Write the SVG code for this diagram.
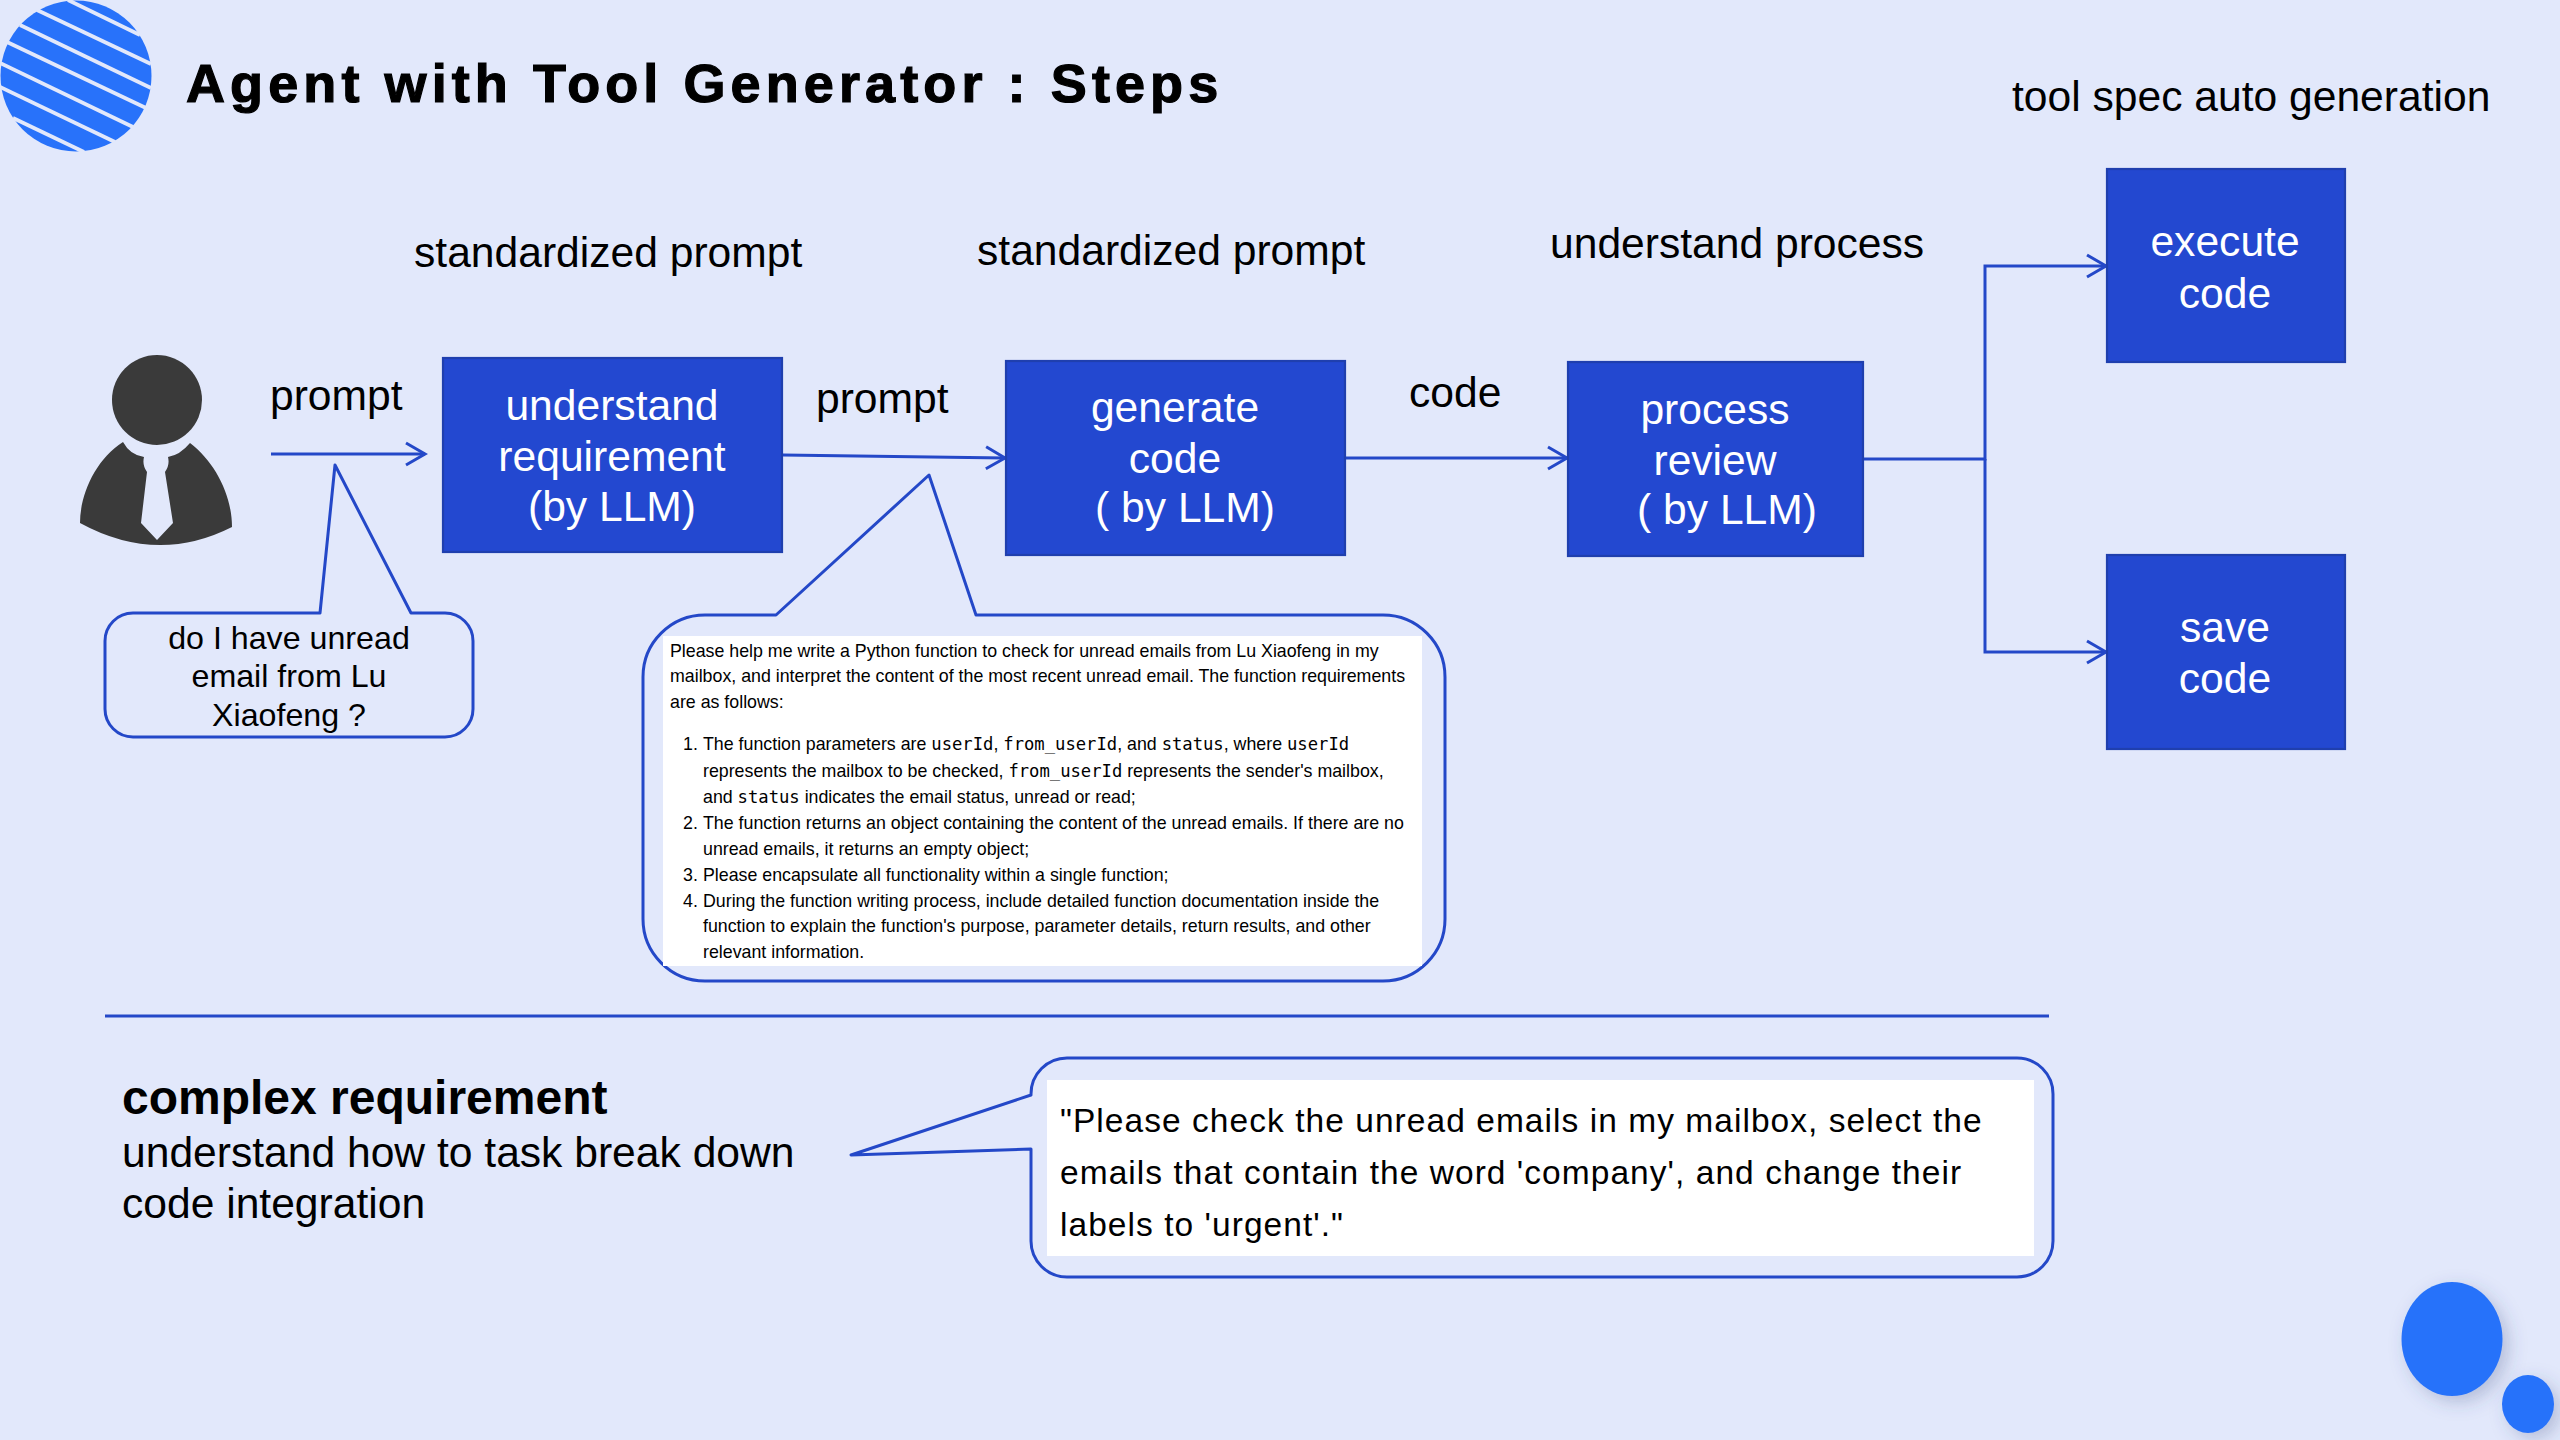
<svg xmlns="http://www.w3.org/2000/svg" width="2560" height="1440" viewBox="0 0 2560 1440">
<style>
text{font-family:"Liberation Sans",Arial,sans-serif;fill:#000}
.lbl{font-size:42.6px}
.box{fill:#2348D0;stroke:#1F3FAE;stroke-width:2.2}
.bt{font-size:42.6px;fill:#fff;text-anchor:middle}
.con{fill:none;stroke:#2448C8;stroke-width:3}
.call{fill:#E2E8FB;stroke:#2448C8;stroke-width:3;stroke-linejoin:round}
.cc{font-size:32.2px;text-anchor:middle}
.p{font-size:17.8px}
.m{font-family:"DejaVu Sans Mono","Liberation Mono",monospace;font-size:17.2px}
.q{font-size:33.5px;letter-spacing:1.05px}
.stripe{stroke:#E2E8FB;stroke-width:3.8}
</style>
<defs>
<marker id="arr" markerUnits="userSpaceOnUse" markerWidth="24" markerHeight="26" refX="20" refY="13" orient="auto"><path d="M1 2 L20 13 L1 24" fill="none" stroke="#2448C8" stroke-width="3"/></marker>
<filter id="sh" x="-30%" y="-30%" width="170%" height="170%"><feDropShadow dx="6" dy="6" stdDeviation="9" flood-color="#3a4a80" flood-opacity="0.28"/></filter>
</defs>
<rect width="2560" height="1440" fill="#E2E8FB"/>
<g id="logo">
<circle cx="76" cy="76" r="75.5" fill="#2872FA"/>
<g class="stripe"><line x1="68" y1="0" x2="140" y2="35"/><line x1="37" y1="10" x2="151" y2="64"/><line x1="20" y1="25" x2="151" y2="88"/><line x1="7" y1="42" x2="146" y2="108"/><line x1="0" y1="63" x2="133" y2="127"/><line x1="0" y1="87" x2="115" y2="142"/><line x1="13" y1="118" x2="84" y2="152"/></g>
</g>
<text id="title" x="186" y="102" font-size="54" font-weight="700" letter-spacing="5.1" stroke="#000" stroke-width="1.2">Agent with Tool Generator : Steps</text>
<g id="decor">
<ellipse cx="2452" cy="1339" rx="50.5" ry="57" fill="#2872FA" filter="url(#sh)"/>
<ellipse cx="2528" cy="1404" rx="26" ry="29" fill="#2872FA" filter="url(#sh)"/>
</g>
<g id="user">
<circle cx="157" cy="400" r="45" fill="#3A3A3A"/>
<path d="M123 442 C95 460 80 495 80 523 Q157 565 232 527 C232 495 215 462 190 443 Q180 455 168 457 Q170 465 165 472 L173 523 L157 540 L141 523 L147 472 Q142 465 144 457 Q130 455 123 442Z" fill="#3A3A3A"/>
</g>
<g id="connectors">
<line class="con" x1="271" y1="454" x2="425" y2="454" marker-end="url(#arr)"/>
<line class="con" x1="783" y1="455" x2="1005" y2="458" marker-end="url(#arr)"/>
<line class="con" x1="1346" y1="458" x2="1567" y2="458" marker-end="url(#arr)"/>
<path class="con" d="M1863 459H1985V266H2106" marker-end="url(#arr)"/>
<path class="con" d="M1985 459V652H2106" marker-end="url(#arr)"/>
<line x1="105" y1="1016" x2="2049" y2="1016" class="con"/>
</g>
<g id="understand"><rect class="box" x="443" y="358" width="339" height="194"/><text class="bt" x="612" y="420">understand</text><text class="bt" x="612" y="471">requirement</text><text class="bt" x="612" y="521">(by LLM)</text></g>
<g id="generate"><rect class="box" x="1006" y="361" width="339" height="194"/><text class="bt" x="1175" y="422">generate</text><text class="bt" x="1175" y="473">code</text><text class="bt" x="1185" y="522">( by LLM)</text></g>
<g id="process"><rect class="box" x="1568" y="362" width="295" height="194"/><text class="bt" x="1715" y="424">process</text><text class="bt" x="1715" y="475">review</text><text class="bt" x="1727" y="524">( by LLM)</text></g>
<g id="execute"><rect class="box" x="2107" y="169" width="238" height="193"/><text class="bt" x="2225" y="256">execute</text><text class="bt" x="2225" y="308">code</text></g>
<g id="save"><rect class="box" x="2107" y="555" width="238" height="194"/><text class="bt" x="2225" y="642">save</text><text class="bt" x="2225" y="693">code</text></g>
<g id="labels">
<text class="lbl" x="2012" y="111">tool spec auto generation</text>
<text class="lbl" x="414" y="267">standardized prompt</text>
<text class="lbl" x="977" y="265">standardized prompt</text>
<text class="lbl" x="1550" y="258">understand process</text>
<text class="lbl" x="270" y="410">prompt</text>
<text class="lbl" x="816" y="413">prompt</text>
<text class="lbl" x="1409" y="407">code</text>
</g>
<g id="callout-question">
<path class="call" d="M133 613H320L335 465L411 613H445A28 28 0 0 1 473 641V709A28 28 0 0 1 445 737H133A28 28 0 0 1 105 709V641A28 28 0 0 1 133 613Z"/>
<text class="cc" x="289" y="649">do I have unread</text><text class="cc" x="289" y="687">email from Lu</text><text class="cc" x="289" y="726">Xiaofeng ?</text>
</g>
<g id="callout-prompt">
<path class="call" d="M705 615H776L929 475L976 615H1383A62 62 0 0 1 1445 677V919A62 62 0 0 1 1383 981H705A62 62 0 0 1 643 919V677A62 62 0 0 1 705 615Z"/>
<rect x="663" y="636" width="759" height="330" fill="#fff"/>
<text class="p" x="670" y="657">Please help me write a Python function to check for unread emails from Lu Xiaofeng in my</text>
<text class="p" x="670" y="682">mailbox, and interpret the content of the most recent unread email. The function requirements</text>
<text class="p" x="670" y="708">are as follows:</text>
<text class="p" x="683" y="750">1.</text><text class="p" x="703" y="750">The function parameters are <tspan class="m">userId</tspan>, <tspan class="m">from_userId</tspan>, and <tspan class="m">status</tspan>, where <tspan class="m">userId</tspan></text>
<text class="p" x="703" y="777">represents the mailbox to be checked, <tspan class="m">from_userId</tspan> represents the sender's mailbox,</text>
<text class="p" x="703" y="803">and <tspan class="m">status</tspan> indicates the email status, unread or read;</text>
<text class="p" x="683" y="829">2.</text><text class="p" x="703" y="829">The function returns an object containing the content of the unread emails. If there are no</text>
<text class="p" x="703" y="855">unread emails, it returns an empty object;</text>
<text class="p" x="683" y="881">3.</text><text class="p" x="703" y="881">Please encapsulate all functionality within a single function;</text>
<text class="p" x="683" y="907">4.</text><text class="p" x="703" y="907">During the function writing process, include detailed function documentation inside the</text>
<text class="p" x="703" y="932">function to explain the function's purpose, parameter details, return results, and other</text>
<text class="p" x="703" y="958">relevant information.</text>
</g>
<g id="complex">
<text x="122" y="1114" font-size="48" font-weight="700">complex requirement</text>
<text class="lbl" x="122" y="1167">understand how to task break down</text>
<text class="lbl" x="122" y="1218">code integration</text>
</g>
<g id="callout-example">
<path class="call" d="M1067 1058H2017A36 36 0 0 1 2053 1094V1241A36 36 0 0 1 2017 1277H1067A36 36 0 0 1 1031 1241V1149L851 1155L1031 1095V1094A36 36 0 0 1 1067 1058Z"/>
<rect x="1047" y="1080" width="987" height="176" fill="#fff"/>
<text class="q" x="1060" y="1132">"Please check the unread emails in my mailbox, select the</text>
<text class="q" x="1060" y="1184">emails that contain the word 'company', and change their</text>
<text class="q" x="1060" y="1236">labels to 'urgent'."</text>
</g>
</svg>
